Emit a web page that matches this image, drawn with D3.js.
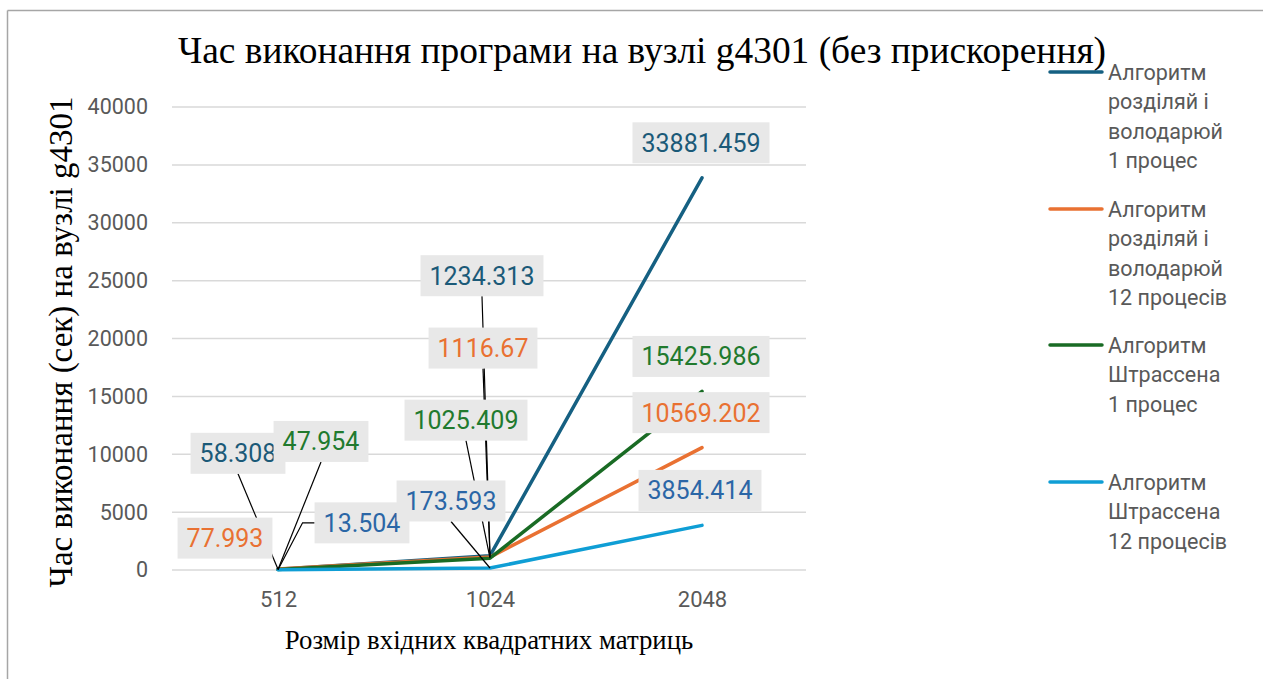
<!DOCTYPE html>
<html>
<head>
<meta charset="utf-8">
<script src="https://cdn.jsdelivr.net/npm/d3@7"></script>
<style>
  html, body { margin: 0; padding: 0; background: #ffffff; }
  svg { display: block; }
</style>
</head>
<body>
<svg id="chart" width="1263" height="679"></svg>
<script>
// Matrix sizes on the x axis
const categories = ["512", "1024", "2048"];

// Execution time (s) for each algorithm / process count
const divideConquer1 = [58.308, 1234.313, 33881.459];
const divideConquer12 = [77.993, 1116.67, 10569.202];
const strassen1 = [47.954, 1025.409, 15425.986];
const strassen12 = [13.504, 173.593, 3854.414];

const seriesNames = [
  "Алгоритм розділяй і володарюй 1 процес",
  "Алгоритм розділяй і володарюй 12 процесів",
  "Алгоритм Штрассена 1 процес",
  "Алгоритм Штрассена 12 процесів"
];

const yTicks = [0, 5000, 10000, 15000, 20000, 25000, 30000, 35000, 40000];

const titleText = "Час виконання програми на вузлі g4301 (без прискорення)";
const yTitleText = "Час виконання (сек) на вузлі g4301";
const xTitleText = "Розмір вхідних квадратних матриць";

// ---- presentation ----
const lineColors = ["#156082", "#e97132", "#196b24", "#0f9ed5"];
const labelColors = ["#1b5a78", "#e97132", "#217a2e", "#2b66a6"];

// Label box offsets from each point (px) and leader style per label
const labelLayout = [
  [{dx: -40, dy: -116, leader: "bottom"}, {dx: -8, dy: -280, leader: "bottom"}, {dx: -1, dy: -35, leader: null}],
  [{dx: -53, dy: -31, leader: null}, {dx: -7, dy: -209, leader: "bottom"}, {dx: -1, dy: -35, leader: null}],
  [{dx: 43, dy: -128, leader: "bottom"}, {dx: -24, dy: -138, leader: "bottom"}, {dx: -1, dy: -35, leader: null}],
  [{dx: 84, dy: -47, leader: "left"}, {dx: -39, dy: -67, leader: "bottom"}, {dx: -2, dy: -35, leader: null}]
];

// Legend text split into the lines it occupies
const legendLines = [
  ["Алгоритм", "розділяй і", "володарюй", "1 процес"],
  ["Алгоритм", "розділяй і", "володарюй", "12 процесів"],
  ["Алгоритм", "Штрассена", "1 процес"],
  ["Алгоритм", "Штрассена", "12 процесів"]
];
const legendY = [72, 209, 345, 482];

const series = [divideConquer1, divideConquer12, strassen1, strassen12];

const serif = "'Liberation Serif', 'Times New Roman', serif";
const sans = "Roboto, 'Open Sans', sans-serif";

const svg = d3.select("#chart");

// Outer frame (top and left edges)
svg.append("line").attr("x1", 7.5).attr("x2", 1263).attr("y1", 10.5).attr("y2", 10.5)
  .attr("stroke", "#a6a6a6").attr("stroke-width", 1.5);
svg.append("line").attr("x1", 7.5).attr("x2", 7.5).attr("y1", 10.5).attr("y2", 679)
  .attr("stroke", "#a6a6a6").attr("stroke-width", 1.5);

const plotLeft = 172, plotRight = 808, plotTop = 107, plotBottom = 570;

const x = d3.scalePoint().domain(categories).range([plotLeft, plotRight]).padding(0.5);
const y = d3.scaleLinear().domain([0, 40000]).range([plotBottom, plotTop]);

// Gridlines
svg.append("g").selectAll("line").data(yTicks).join("line")
  .attr("x1", plotLeft).attr("x2", 806)
  .attr("y1", d => y(d)).attr("y2", d => y(d))
  .attr("stroke", "#d9d9d9").attr("stroke-width", 1.5);

// Y axis tick labels
const yAxis = d3.axisLeft(y).tickValues(yTicks).tickSize(0).tickPadding(0).tickFormat(d3.format("d"));
const yg = svg.append("g").attr("transform", "translate(148,0)").call(yAxis);
yg.select(".domain").remove();
yg.selectAll("text").attr("font-family", sans).attr("font-size", 21.5).attr("fill", "#595959");

// X axis tick labels
const xAxis = d3.axisBottom(x).tickSize(0).tickPadding(0);
const xg = svg.append("g").attr("transform", "translate(0,591)").call(xAxis);
xg.select(".domain").remove();
xg.selectAll("text").attr("font-family", sans).attr("font-size", 22).attr("fill", "#595959");

// Series lines
const line = d3.line().x((d, i) => x(categories[i])).y(d => y(d));
svg.append("g").selectAll("path").data(series).join("path")
  .attr("d", d => line(d))
  .attr("fill", "none")
  .attr("stroke", (d, i) => lineColors[i])
  .attr("stroke-width", 3.5)
  .attr("stroke-linejoin", "round")
  .attr("stroke-linecap", "round");

// Data labels: measure text first, then leaders, then boxes on top
const labels = [];
series.forEach((vals, si) => {
  vals.forEach((v, ci) => {
    const px = x(categories[ci]), py = y(v);
    const lay = labelLayout[si][ci];
    labels.push({si, ci, v, px, py, cx: px + lay.dx, cy: py + lay.dy, leader: lay.leader});
  });
});

const measure = svg.append("text").attr("font-family", sans).attr("font-size", 25).attr("visibility", "hidden");
labels.forEach(l => {
  measure.text(String(l.v));
  l.w = measure.node().getComputedTextLength() + 18;
  l.h = 41;
});
measure.remove();

const leaders = svg.append("g");
labels.filter(l => l.leader).forEach(l => {
  let pts;
  if (l.leader === "bottom") {
    pts = [[l.cx, l.cy + l.h / 2], [l.px, l.py]];
  } else {
    const ex = l.cx - l.w / 2;
    pts = [[ex, l.cy], [ex - 12, l.cy], [l.px, l.py]];
  }
  leaders.append("path").attr("d", d3.line()(pts))
    .attr("fill", "none").attr("stroke", "#000000").attr("stroke-width", 1.2);
});

const lg = svg.append("g").selectAll("g").data(labels).join("g");
lg.append("rect")
  .attr("x", d => d.cx - d.w / 2).attr("y", d => d.cy - d.h / 2)
  .attr("width", d => d.w).attr("height", d => d.h)
  .attr("fill", "#e8e8e8");
lg.append("text")
  .attr("x", d => d.cx).attr("y", d => d.cy)
  .attr("dy", "0.36em")
  .attr("text-anchor", "middle")
  .attr("font-family", sans).attr("font-size", 25)
  .attr("fill", d => labelColors[d.si])
  .text(d => String(d.v));

// Title
svg.append("text").attr("x", 642).attr("y", 63).attr("text-anchor", "middle")
  .attr("font-family", serif).attr("font-size", 37.4).attr("fill", "#000000")
  .text(titleText);

// Axis titles
svg.append("text").attr("transform", "translate(72,342) rotate(-90)").attr("text-anchor", "middle")
  .attr("font-family", serif).attr("font-size", 33).attr("fill", "#000000")
  .text(yTitleText);
svg.append("text").attr("x", 489).attr("y", 649).attr("text-anchor", "middle")
  .attr("font-family", serif).attr("font-size", 26.8).attr("fill", "#000000")
  .text(xTitleText);

// Legend
const leg = svg.append("g").selectAll("g").data(seriesNames).join("g")
  .attr("transform", (d, i) => `translate(1050,${legendY[i]})`);
leg.append("line").attr("x1", 0).attr("x2", 52).attr("y1", 0).attr("y2", 0)
  .attr("stroke", (d, i) => lineColors[i]).attr("stroke-width", 3.5).attr("stroke-linecap", "round");
leg.append("text").attr("x", 58).attr("y", 0)
  .attr("font-family", sans).attr("font-size", 21.5).attr("fill", "#595959")
  .selectAll("tspan").data((d, i) => legendLines[i]).join("tspan")
  .attr("x", 58).attr("dy", (d, j) => j === 0 ? "0.35em" : "29.6")
  .text(d => d);
</script>
</body>
</html>
